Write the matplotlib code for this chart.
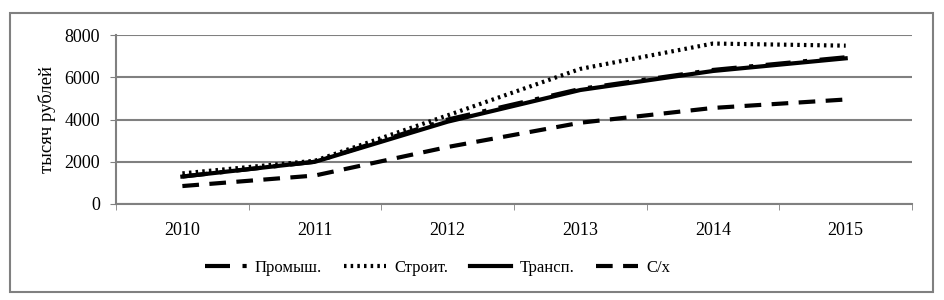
import matplotlib.pyplot as plt
from matplotlib.patches import Rectangle

plt.rcParams['font.family'] = ['Liberation Serif', 'DejaVu Serif']

years = ['2010', '2011', '2012', '2013', '2014', '2015']
prom = [1300, 2000, 4000, 5450, 6350, 6950]
stroi = [1450, 2050, 4200, 6400, 7600, 7500]
trans = [1300, 2000, 3900, 5400, 6300, 6900]
selhoz = [850, 1350, 2700, 3850, 4550, 4950]

fig = plt.figure(figsize=(9.45, 3.0), dpi=100)
ax = fig.add_axes([0.1228, 0.32, 0.8423, 0.563])

x = list(range(len(years)))
ax.plot(x, prom, color='black', lw=3, ls=(0, (6, 3, 1, 3)), label='Промыш.')
ax.plot(x, stroi, color='black', lw=3, ls=(0, (0.6, 1.0)), label='Строит.')
ax.plot(x, trans, color='black', lw=3, ls='-', label='Трансп.')
ax.plot(x, selhoz, color='black', lw=3, ls=(0, (4, 2.5)), label='С/х')

ax.set_xlim(-0.5, len(years) - 0.5)
ax.set_ylim(0, 8000)
ax.set_yticks([0, 2000, 4000, 6000, 8000])
ax.set_xticks(x)
ax.set_xticklabels(years)
ax.set_xticks([i - 0.5 for i in range(len(years) + 1)], minor=True)
ax.tick_params(axis='x', which='major', length=0, pad=13, labelsize=13)
ax.tick_params(axis='x', which='minor', length=4.5, color='#808080')
ax.tick_params(axis='y', length=4.5, color='#808080', labelsize=13, pad=7)
ax.yaxis.grid(True, color='#808080', lw=1.5)
ax.set_axisbelow(True)
for s in ['top', 'right']:
    ax.spines[s].set_visible(False)
ax.spines['left'].set_color('#808080')
ax.spines['bottom'].set_color('#808080')
ax.spines['left'].set_linewidth(1.5)
ax.spines['bottom'].set_linewidth(1.5)
ax.set_ylabel('тысяч рублей', fontsize=13.5, labelpad=6)

fig.legend(loc='center', bbox_to_anchor=(0.463, 0.107), ncol=4, frameon=False,
           prop={'family': ['Liberation Serif'], 'size': 12},
           handlelength=2.5, handletextpad=0.5, columnspacing=1.3)

fig.patches.append(Rectangle((0.0106, 0.027), 0.977, 0.93, transform=fig.transFigure,
                             fill=False, edgecolor='#808080', lw=1.5))

fig.savefig('out.png', dpi=100)
